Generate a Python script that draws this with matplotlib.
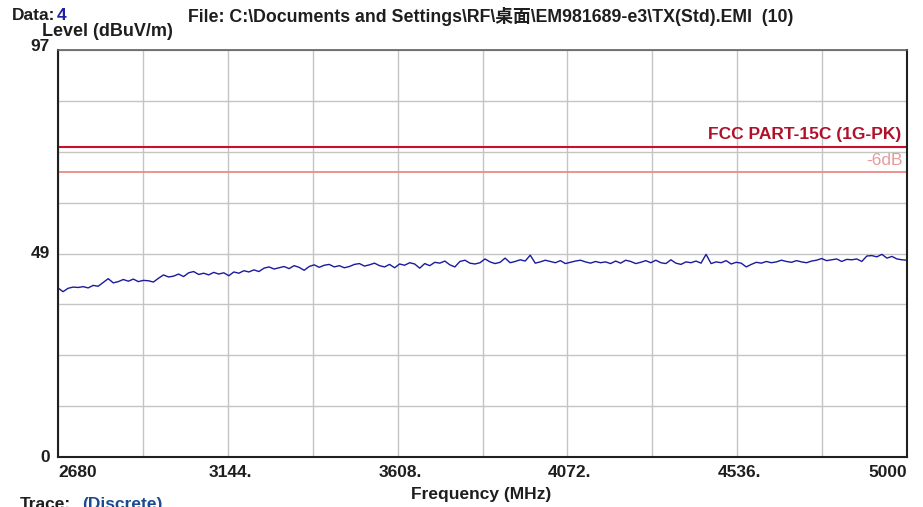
import numpy as np
import matplotlib
matplotlib.use("Agg")
import matplotlib.pyplot as plt

# ---- data ----
f_start, f_stop = 2680, 5000
y_min, y_max = 0, 97
x_tick_labels = ["2680", "", "3144.", "", "3608.", "", "4072.", "", "4536.", "", "5000"]
y_tick_values = [0, 48.5, 97]
y_tick_labels = ["0", "49", "97"]
limit_fcc = 74.0
limit_6db = 68.0

trace_level = [
    40.3, 39.4, 40.2, 40.5, 40.4, 40.6, 40.3, 40.9, 40.7,
    41.6, 42.5, 41.5, 41.8, 42.3, 41.9, 42.4, 41.8, 42.1, 42.0,
    41.7, 42.6, 43.4, 42.9, 43.1, 43.6, 43.0, 43.9, 44.2, 43.5,
    43.8, 43.4, 44.0, 43.6, 43.9, 43.2, 44.1, 43.8, 44.4, 44.1,
    44.6, 44.2, 45.0, 45.3, 44.8, 45.1, 45.4, 44.9, 45.6, 45.2,
    44.5, 45.4, 45.8, 45.2, 45.7, 45.9, 45.3, 45.6, 45.1, 45.4,
    45.9, 46.1, 45.5, 45.8, 46.2, 45.6, 45.3, 45.9, 45.1, 46.0,
    45.7, 46.3, 46.0, 45.0, 46.1, 45.6, 46.4, 46.2, 46.7, 45.8,
    45.3, 46.6, 46.9, 46.2, 46.0, 46.3, 47.2, 46.5, 46.1, 46.4,
    47.4, 46.3, 46.6, 47.0, 46.7, 48.1, 46.2, 46.5, 46.9, 46.6,
    46.3, 46.8, 46.1, 46.4, 46.7, 46.9, 46.5, 46.2, 46.6, 46.3,
    46.5, 46.1, 46.7, 46.2, 46.9, 46.6, 46.1, 46.4, 46.8, 46.3,
    46.9, 46.3, 46.1, 47.0, 46.2, 45.9, 46.5, 46.3, 46.7, 46.2,
    48.3, 46.1, 46.5, 46.3, 46.8, 46.0, 46.4, 46.2, 45.3, 45.9,
    46.4, 46.2, 46.6, 46.3, 46.5, 46.9, 46.6, 46.4, 46.8, 46.5,
    46.3, 46.7, 46.9, 47.3, 46.8, 47.0, 47.2, 46.6, 47.1, 47.0,
    47.2, 46.6, 47.9, 48.0, 47.7, 48.3, 47.4, 47.8, 47.2, 47.0, 46.9,
]
trace_freq = np.linspace(f_start, f_stop, len(trace_level))

# ---- figure ----
W, H = 923, 507
fig = plt.figure(figsize=(W / 100, H / 100), dpi=100)
L, R, B, T = 58, 907, 457, 50
ax = fig.add_axes([L / W, 1 - B / H, (R - L) / W, (B - T) / H])

font = ["Liberation Sans", "Noto Sans CJK SC", "DejaVu Sans"]
plt.rcParams["font.family"] = font
FS = 12.5
DARK = "#1e1e1e"

ax.set_xlim(f_start, f_stop)
ax.set_ylim(y_min, y_max)

xt = np.linspace(f_start, f_stop, 11)
yt = np.linspace(y_min, y_max, 9)
ax.set_xticks(xt)
ax.set_xticklabels([])
ax.set_yticks(yt)
ax.set_yticklabels([])
ax.grid(True, color="#c4c4c4", linewidth=1.0)
ax.tick_params(length=0)
ax.set_axisbelow(True)

for s in ["left", "bottom", "right"]:
    ax.spines[s].set_color("#202020")
    ax.spines[s].set_linewidth(1.5)
ax.spines["top"].set_color("#606060")
ax.spines["top"].set_linewidth(1.2)

# limit lines
ax.axhline(limit_fcc, color="#c8102e", linewidth=1.5)
ax.axhline(limit_6db, color="#ea8a8a", linewidth=1.3)
ax.text(f_stop - 15, limit_fcc + 1.0, "FCC PART-15C (1G-PK)", color="#b0102a",
        fontsize=FS, fontweight="bold", ha="right", va="bottom")
ax.text(f_stop - 12, limit_6db + 0.9, "-6dB", color="#e89a9a",
        fontsize=FS, ha="right", va="bottom")

# trace
ax.plot(trace_freq, trace_level, color="#1a1aa0", linewidth=1.0)

# tick labels
for x, lab in zip(xt, x_tick_labels):
    if not lab:
        continue
    ha = "center"
    xx = x + 7
    if x == f_start:
        ha, xx = "left", x
    elif x == f_stop:
        ha, xx = "right", x
    ax.text(xx, -2.0, lab, ha=ha, va="top", fontsize=FS, fontweight="bold",
            color=DARK)
ypos = {0: 0, 48.5: 48.5, 97: 97.8}
for v, lab in zip(y_tick_values, y_tick_labels):
    ax.text(f_start - 22, ypos[v], lab, ha="right", va="center", fontsize=FS,
            fontweight="bold", color=DARK)

# labels
fig.text(481 / W, 1 - 494 / H, "Frequency (MHz)", ha="center", va="center",
         fontsize=FS, fontweight="bold", color=DARK)
fig.text(42 / W, 1 - 32 / H, "Level (dBuV/m)", ha="left", va="center",
         fontsize=FS + 0.5, fontweight="bold", color=DARK)
fig.text(12 / W, 1 - 16 / H, "Data:", ha="left", va="center",
         fontsize=FS, fontweight="bold", color=DARK)
fig.text(57 / W, 1 - 16 / H, "4", ha="left", va="center",
         fontsize=FS, fontweight="bold", color="#2020a0")
fig.text(188 / W, 1 - 16 / H,
         "File: C:\\Documents and Settings\\RF\\桌面\\EM981689-e3\\TX(Std).EMI  (10)",
         ha="left", va="center", fontsize=12.8, fontweight="bold",
         color=DARK, family=font)
fig.text(20 / W, 1 - 497 / H, "Trace:", ha="left", va="top",
         fontsize=FS, fontweight="bold", color=DARK)
fig.text(82 / W, 1 - 497 / H, "(Discrete)", ha="left", va="top",
         fontsize=FS, fontweight="bold", color="#1a4a90")

fig.savefig("out.png", dpi=100, facecolor="white")
